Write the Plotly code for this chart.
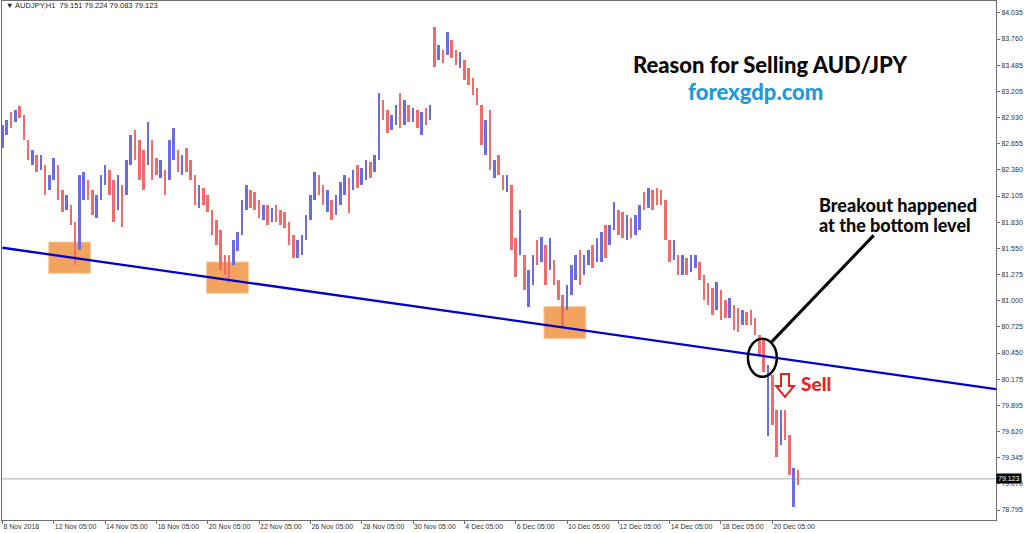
import plotly.graph_objects as go

# ---------------- data (AUDJPY, 4-hour bars) ----------------
highs = [
    82.85, 82.91, 82.99, 83.01, 83.05, 82.96, 82.70, 82.59, 82.54, 82.54,
    82.43, 82.33, 82.51, 82.43, 82.17, 82.12, 82.01, 81.83, 82.33, 82.36,
    82.27, 82.17, 82.12, 82.33, 82.43, 82.38, 82.27, 82.33, 82.22, 82.49,
    82.75, 82.80, 82.70, 82.59, 82.89, 82.70, 82.51, 82.49, 82.38, 82.70,
    82.82, 82.59, 82.54, 82.61, 82.49, 82.33, 82.22, 82.19, 82.12, 81.96,
    81.85, 81.75, 81.48, 81.48, 81.64, 81.73, 82.06, 82.22, 82.17, 82.15,
    82.06, 82.01, 82.01, 81.98, 82.01, 81.96, 81.94, 81.83, 81.69, 81.64,
    81.69, 81.91, 82.12, 82.36, 82.33, 82.22, 82.17, 82.06, 82.12, 82.25,
    82.33, 82.30, 82.38, 82.43, 82.40, 82.49, 82.46, 82.54, 83.19, 83.12,
    83.01, 82.96, 83.07, 83.19, 83.12, 83.07, 83.03, 83.01, 82.99, 83.03,
    83.07, 83.89, 83.70, 83.64, 83.83, 83.75, 83.64, 83.62, 83.54, 83.46,
    83.35, 83.24, 83.07, 82.91, 83.01, 82.49, 82.54, 82.33, 82.33, 82.22,
    81.66, 81.96, 81.48, 81.33, 81.48, 81.64, 81.67, 81.59, 81.66, 81.43,
    81.22, 81.06, 81.17, 81.38, 81.48, 81.54, 81.48, 81.54, 81.59, 81.66,
    81.73, 81.80, 81.80, 82.04, 81.96, 81.94, 81.91, 81.87, 81.91, 82.01,
    82.15, 82.19, 82.17, 82.19, 82.17, 82.06, 81.64, 81.64, 81.48, 81.48,
    81.45, 81.48, 81.48, 81.41, 81.27, 81.19, 81.14, 81.20, 81.11, 81.01,
    81.03, 80.96, 80.92, 80.90, 80.88, 80.90, 80.82, 80.64, 80.59, 80.32,
    80.22, 79.85, 79.85, 79.85, 79.59, 79.24, 79.22,
]
lows = [
    82.61, 82.75, 82.82, 82.89, 82.93, 82.70, 82.49, 82.43, 82.36, 82.38,
    82.12, 82.17, 82.27, 82.06, 81.94, 81.96, 81.80, 81.38, 81.54, 82.06,
    82.06, 81.91, 81.87, 82.06, 82.22, 82.12, 81.83, 81.96, 81.78, 82.12,
    82.43, 82.49, 82.27, 82.17, 82.43, 82.27, 82.33, 82.30, 82.12, 82.27,
    82.49, 82.36, 82.33, 82.36, 82.27, 82.01, 81.98, 82.01, 81.94, 81.69,
    81.59, 81.33, 81.27, 81.19, 81.38, 81.53, 81.69, 81.96, 81.98, 81.96,
    81.87, 81.85, 81.80, 81.83, 81.83, 81.80, 81.77, 81.59, 81.45, 81.45,
    81.48, 81.64, 81.85, 82.06, 82.12, 82.01, 81.94, 81.85, 81.91, 82.01,
    82.12, 81.93, 82.17, 82.19, 82.22, 82.27, 82.30, 82.36, 82.49, 82.91,
    82.77, 82.80, 82.85, 82.82, 82.85, 82.89, 82.89, 82.82, 82.75, 82.85,
    82.91, 83.47, 83.54, 83.51, 83.59, 83.56, 83.49, 83.46, 83.33, 83.28,
    83.17, 83.07, 82.64, 82.54, 82.38, 82.30, 82.33, 82.17, 82.15, 81.54,
    81.25, 81.48, 81.11, 80.94, 81.17, 81.38, 81.41, 81.17, 81.33, 81.17,
    81.01, 80.72, 80.90, 81.06, 81.22, 81.17, 81.27, 81.38, 81.35, 81.41,
    81.41, 81.45, 81.59, 81.75, 81.69, 81.66, 81.64, 81.66, 81.69, 81.75,
    81.96, 81.98, 81.96, 82.01, 82.01, 81.64, 81.41, 81.43, 81.27, 81.27,
    81.27, 81.30, 81.35, 81.22, 81.01, 80.96, 80.85, 80.90, 80.80, 80.82,
    80.82, 80.69, 80.67, 80.75, 80.75, 80.75, 80.64, 80.43, 80.25, 79.58,
    79.69, 79.35, 79.48, 79.53, 79.16, 78.83, 79.06,
]
# u = bullish (blue), d = bearish (red)
directions = "".join([
    "uudu ddd udu", "duud dudd uu", "dduu uddu du", "uddd uddu du", "udud ddud dd",
    "dddd uuuu dd", "dudu dddd du", "uuuu ddud uu", "udud uudu ud", "duud udud ud",
    "udud udd udd", "dddu dudd ud", "dudu udud ud", "dduu uduu du", "uduu ddud uu",
    "dudd dddu du", "duud dddu dd", "uddu dddd du", "ddud dud",
]).replace(" ", "")

tick_idx = [0, 12, 24, 36, 48, 60, 72, 84, 96, 108, 120, 132, 144, 156, 168, 180]
tick_text = ["8 Nov 2018", "12 Nov 05:00", "14 Nov 05:00", "16 Nov 05:00", "20 Nov 05:00",
             "22 Nov 05:00", "26 Nov 05:00", "28 Nov 05:00", "30 Nov 05:00", "4 Dec 05:00",
             "6 Dec 05:00", "10 Dec 05:00", "12 Dec 05:00", "14 Dec 05:00", "18 Dec 05:00",
             "20 Dec 05:00"]
price_ticks = [84.035, 83.760, 83.485, 83.205, 82.930, 82.655, 82.380, 82.105, 81.830, 81.550,
               81.275, 81.000, 80.725, 80.450, 80.175, 79.895, 79.620, 79.345, 79.070, 78.795]

trend_x = [0, 232.3]
trend_y = [81.56, 80.07]
last_price = 79.123
header = "AUDJPY,H1  79.151 79.224 79.083 79.123"

# support boxes (bar index range, price range)
boxes = [(10.8, 20.6, 81.29, 81.62), (47.7, 57.5, 81.08, 81.41), (126.6, 136.4, 80.60, 80.94)]
# ---------------------------------------------------------------------------------

idx = list(range(len(highs)))
RED = "#F46A6A"
BLUE = "#6B6BE3"
colors = [BLUE if d == "u" else RED for d in directions]

# plot-area geometry (pixels) for placing texts
L, R, T, B = 2, 996, 1, 520


def px(x):
    return (x - L) / (R - L)


def py(y):
    return (B - y) / (B - T)


fig = go.Figure()
fig.add_trace(go.Bar(
    x=idx, y=[h - l for h, l in zip(highs, lows)], base=lows,
    width=0.6, marker=dict(color=colors, line=dict(width=0)),
    hoverinfo="skip", showlegend=False,
))
fig.add_trace(go.Scatter(
    x=trend_x, y=trend_y, mode="lines",
    line=dict(color="#0000CC", width=2.3), hoverinfo="skip", showlegend=False,
))

shapes = []
for x0, x1, y0, y1 in boxes:
    shapes.append(dict(type="rect", xref="x", yref="y", x0=x0, x1=x1, y0=y0, y1=y1,
                       fillcolor="#F2A35D", line=dict(color="#F8CFA5", width=1), layer="below"))
shapes.append(dict(type="line", xref="paper", yref="y", x0=0, x1=1, y0=last_price, y1=last_price,
                   line=dict(color="#A9B1BA", width=1), layer="below"))
shapes.append(dict(type="circle", xref="x", yref="y", x0=174.3, x1=181.05, y0=80.20, y1=80.60,
                   line=dict(color="black", width=2.5)))
shapes.append(dict(type="line", xref="x", yref="y", x0=179.9, y0=80.57, x1=203.7, y1=81.69,
                   line=dict(color="black", width=3)))
# hollow red "sell" arrow
arrow_pts = [(781, 374), (789, 374), (789, 386), (794, 386), (785, 397), (776, 386), (781, 386)]
path = "M " + " L ".join(f"{px(a):.5f},{py(b):.5f}" for a, b in arrow_pts) + " Z"
shapes.append(dict(type="path", xref="paper", yref="paper", path=path,
                   line=dict(color="#E8231F", width=2), fillcolor="rgba(0,0,0,0)"))

TITLE_FONT = "Lato"
annotations = [
    dict(text="Reason for Selling AUD/JPY", x=px(770), y=py(64), xref="paper", yref="paper",
         showarrow=False, xanchor="center", yanchor="middle",
         font=dict(family=TITLE_FONT, size=22, weight=900, color="#0A0A0A")),
    dict(text="forexgdp.com", x=px(755), y=py(91), xref="paper", yref="paper",
         showarrow=False, xanchor="center", yanchor="middle",
         font=dict(family=TITLE_FONT, size=22, weight=900, color="#1C9AD9")),
    dict(text="Breakout happened", x=px(817), y=py(205), xref="paper", yref="paper",
         showarrow=False, xanchor="left", yanchor="middle",
         font=dict(family=TITLE_FONT, size=18, weight=900, color="#0A0A0A")),
    dict(text="at the bottom level", x=px(817), y=py(225), xref="paper", yref="paper",
         showarrow=False, xanchor="left", yanchor="middle",
         font=dict(family=TITLE_FONT, size=18, weight=900, color="#0A0A0A")),
    dict(text="Sell", x=px(799), y=py(383), xref="paper", yref="paper",
         showarrow=False, xanchor="left", yanchor="middle",
         font=dict(family=TITLE_FONT, size=19, weight=900, color="#E8231F")),
    dict(text="▼ " + header, x=px(4), y=py(6), xref="paper", yref="paper",
         showarrow=False, xanchor="left", yanchor="middle",
         font=dict(family="Liberation Sans", size=7.5, color="#222222")),
    dict(text=f"{last_price:.3f}", x=1.0, y=last_price, xref="paper", yref="y",
         showarrow=False, xanchor="left", yanchor="middle", bgcolor="black", borderpad=1,
         font=dict(family="Liberation Sans", size=7, color="white")),
]

fig.update_layout(
    width=1024, height=533, autosize=False,
    margin=dict(l=L, r=1024 - R, t=T, b=533 - B),
    paper_bgcolor="white", plot_bgcolor="white",
    shapes=shapes, annotations=annotations, bargap=0, showlegend=False,
    xaxis=dict(range=[-0.1, 232.3], tickmode="array", tickvals=tick_idx, ticktext=tick_text,
               showgrid=False, zeroline=False, showline=True, linecolor="#6E6E6E", linewidth=1,
               mirror=True, ticks="outside", ticklen=3, tickcolor="#6E6E6E",
               ticklabelposition="outside right",
               tickfont=dict(family="Liberation Sans", size=7, color="#333333"), fixedrange=True),
    yaxis=dict(range=[78.69, 84.161], side="right", tickmode="array", tickvals=price_ticks,
               ticktext=[f"{v:.3f}" for v in price_ticks],
               showgrid=False, zeroline=False, showline=True, linecolor="#6E6E6E", linewidth=1,
               mirror=True, ticks="outside", ticklen=3, tickcolor="#6E6E6E",
               tickfont=dict(family="Liberation Sans", size=7, color="#333333"), fixedrange=True),
)

fig.write_html("out.html", config=dict(displayModeBar=False),
               post_script="document.body.style.margin='0';document.body.style.padding='0';")
